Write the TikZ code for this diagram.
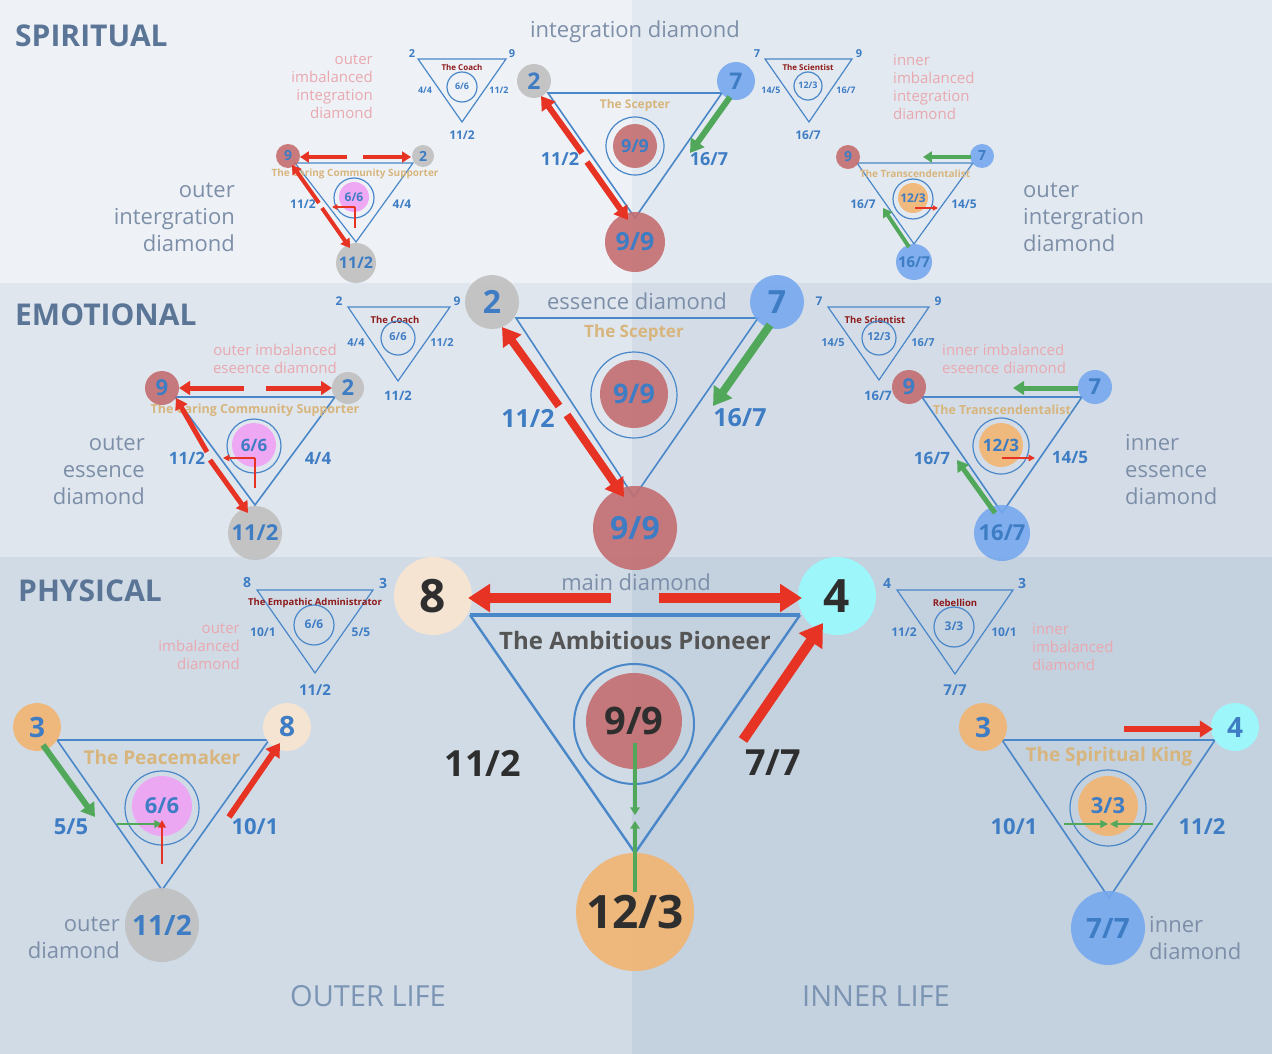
\documentclass[tikz,border=0pt]{standalone}
\usepackage{fontspec}
\setmainfont{Open Sans}
\usetikzlibrary{arrows.meta}
\definecolor{bgSL}{HTML}{EEF2F7}
\definecolor{bgSR}{HTML}{E3E9F0}
\definecolor{bgEL}{HTML}{DFE6EE}
\definecolor{bgER}{HTML}{D4DDE7}
\definecolor{bgPL}{HTML}{D0DBE6}
\definecolor{bgPR}{HTML}{C4D1DF}
\definecolor{numblue}{HTML}{3E7DC4}
\definecolor{triblue}{HTML}{4A87C8}
\definecolor{tanc}{HTML}{D7B57D}
\definecolor{darkredc}{HTML}{8E1B1B}
\definecolor{pinkt}{HTML}{E9A8AF}
\definecolor{headc}{HTML}{5B7597}
\definecolor{labc}{HTML}{7D8FA8}
\definecolor{lifec}{HTML}{7C94B3}
\definecolor{darkt}{HTML}{2E2E2E}
\definecolor{pioneerc}{HTML}{555555}
\definecolor{arrred}{HTML}{E63323}
\definecolor{arrgreen}{HTML}{52A85A}
\definecolor{cgray}{HTML}{C0C0C0}
\definecolor{cred}{HTML}{C46E70}
\definecolor{cblue}{HTML}{76A8EE}
\definecolor{corange}{HTML}{F2B471}
\definecolor{cpink}{HTML}{F0A2F4}
\definecolor{cpeach}{HTML}{FBE6D0}
\definecolor{ccyan}{HTML}{99FBFE}
\newcommand\myfs[2]{\fontsize{#1}{#2}\selectfont}
\tikzset{
  num/.style={text=numblue, font=\bfseries\myfs{#1}{#1}, inner sep=0pt},
  dnum/.style={text=darkt, font=\bfseries\myfs{#1}{#1}, inner sep=0pt},
  dot/.style={circle, inner sep=0pt, minimum size=#1, fill opacity=0.9, text opacity=1},
  ring/.style={circle, draw=triblue, line width=1.2pt, inner sep=0pt, minimum size=#1},
  trismall/.style={draw=triblue, line width=1.2pt, line join=miter},
  trimid/.style={draw=triblue, line width=1.6pt, line join=miter},
  tribig/.style={draw=triblue, line width=2.4pt, line join=miter},
  tanlbl/.style={text=tanc, font=\bfseries\myfs{#1}{#1}, inner sep=0pt},
  drlbl/.style={text=darkredc, font=\bfseries\myfs{#1}{#1}, inner sep=0pt},
  pinklbl/.style={text=pinkt, font=\myfs{15}{18}, inner sep=0pt},
  graylbl/.style={text=labc, font=\myfs{22}{27}, inner sep=0pt},
  headlbl/.style={text=headc, font=\bfseries\myfs{30}{30}, inner sep=0pt, anchor=west},
  lifelbl/.style={text=lifec, font=\myfs{29}{29}, inner sep=0pt},
  rarr/.style={draw=arrred, line width=#1, -{Triangle[length=0pt 2.2, width=0pt 2.7]}},
  garr/.style={draw=arrgreen, line width=#1, -{Triangle[length=0pt 2.2, width=0pt 2.7]}},
  rthin/.style={draw=arrred, line width=#1, -{Triangle[length=0pt 3.5, width=0pt 3.5]}},
  gthin/.style={draw=arrgreen, line width=#1, -{Triangle[length=0pt 3.5, width=0pt 3.5]}},
}
\begin{document}
\begin{tikzpicture}[x=1pt,y=-1pt]
\useasboundingbox (0,0) rectangle (1272,1054);
% backgrounds
\fill[bgSL] (0,0) rectangle (632,283);
\fill[bgSR] (632,0) rectangle (1272,283);
\fill[bgEL] (0,283) rectangle (632,557);
\fill[bgER] (632,283) rectangle (1272,557);
\fill[bgPL] (0,557) rectangle (632,1054);
\fill[bgPR] (632,557) rectangle (1272,1054);

% headings
\node[headlbl] (hS) at (15,36) {SPIRITUAL};
\node[headlbl] (hE) at (15,315) {EMOTIONAL};
\node[headlbl] (hP) at (18,591) {PHYSICAL};
\node[lifelbl] (lo) at (368,996) {OUTER LIFE};
\node[lifelbl] (li) at (876,996) {INNER LIFE};

% ================= SPIRITUAL =================
\node[graylbl] (tInt) at (635,32) {integration diamond};
\node[graylbl, anchor=east, align=right] (tOI) at (235,217) {outer\\intergration\\diamond};
\node[graylbl, anchor=west, align=left] (tII) at (1023,217) {outer\\intergration\\diamond};
\node[pinklbl, anchor=east, align=right] (pS1) at (373,87) {outer\\imbalanced\\integration\\diamond};
\node[pinklbl, anchor=west, align=left] (pS2) at (893,87) {inner\\imbalanced\\integration\\diamond};

% scepter (spiritual)
\coordinate (sA) at (548,93); \coordinate (sB) at (722,93); \coordinate (sC) at (635,218);
\draw[trimid] (sA) -- (sB) -- (sC) -- cycle;
\node[tanlbl=12] (sT) at (635,105) {The Scepter};
\node[ring=58] (sR) at (635,146) {};
\node[dot=44, fill=cred, num=18] (sI) at (635,146) {9/9};
\node[dot=34, fill=cgray, num=23] (s2) at (534,81) {2};
\node[dot=38, fill=cblue, num=23] (s7) at (736,81) {7};
\node[dot=60, fill=cred, num=25] (s9) at (635,242) {9/9};
\node[num=18] (sl1) at (560,159) {11/2};
\node[num=18] (sl2) at (709,159) {16/7};
\draw[rarr=6] (582,153) -- (541,96);
\draw[rarr=6] (587,162) -- (628,220);
\draw[garr=6] (730,97) -- (690,153);

% coach small (spiritual)
\draw[trismall] (418,59) -- (506,59) -- (462,122) -- cycle;
\node[num=11] (c1a) at (412,54) {2};
\node[num=11] (c1b) at (512,54) {9};
\node[drlbl=8] (c1t) at (462,68) {The Coach};
\node[ring=30] (c1r) at (462,87) {};
\node[num=9] (c1c) at (462,86) {6/6};
\node[num=9] (c1l) at (425,90) {4/4};
\node[num=9] (c1rr) at (499,90) {11/2};
\node[num=12] (c1bt) at (462,135) {11/2};

% caring (spiritual)
\draw[trismall] (295,163) -- (413,163) -- (356,242) -- cycle;
\node[ring=40] (cc1r) at (354,198) {};
\node[dot=30, fill=cpink, num=12] (cc1c) at (354,197) {6/6};
\node[tanlbl=10] (cc1t) at (355,174) {The Caring Community Supporter};
\node[dot=24, fill=cred, num=14] (cc19) at (288,156) {9};
\node[dot=22, fill=cgray, num=14] (cc12) at (423,156) {2};
\node[dot=40, fill=cgray, num=16] (cc1b) at (356,263) {11/2};
\node[num=12] (cc1l) at (303,204) {11/2};
\node[num=12] (cc1rl) at (402,204) {4/4};
\draw[rarr=4] (347,157) -- (300,157);
\draw[rarr=4] (363,157) -- (411,157);
\draw[rarr=4] (319,203) -- (292,165);
\draw[rarr=4] (322,208) -- (350,248);
\draw[draw=arrred, line width=1.5pt] (355,228) -- (355,207);
\draw[rthin=1.5pt] (355,207) -- (332,207);

% scientist small (spiritual)
\draw[trismall] (765,59) -- (852,59) -- (809,122) -- cycle;
\node[num=11] (sc1a) at (757,54) {7};
\node[num=11] (sc1b) at (859,54) {9};
\node[drlbl=8] (sc1t) at (808,68) {The Scientist};
\node[ring=28] (sc1r) at (808,86) {};
\node[num=9] (sc1c) at (808,85) {12/3};
\node[num=9] (sc1l) at (771,90) {14/5};
\node[num=9] (sc1rl) at (846,90) {16/7};
\node[num=12] (sc1bt) at (808,135) {16/7};

% transcendentalist (spiritual)
\draw[trismall] (857,163) -- (973,163) -- (914,244) -- cycle;
\node[ring=40] (tr1r) at (913,199) {};
\node[dot=30, fill=corange, num=12] (tr1c) at (913,198) {12/3};
\node[tanlbl=10] (tr1t) at (915,174) {The Transcendentalist};
\node[dot=24, fill=cred, num=14] (tr19) at (848,157) {9};
\node[dot=24, fill=cblue, num=14] (tr17) at (982,156) {7};
\node[dot=36, fill=cblue, num=15] (tr1b) at (914,262) {16/7};
\node[num=12] (tr1l) at (863,204) {16/7};
\node[num=12] (tr1rl) at (964,204) {14/5};
\draw[garr=4] (971,157) -- (923,157);
\draw[garr=4] (909,247) -- (883,208);
\draw[rthin=1.5pt] (915,208) -- (938,208);

% ================= EMOTIONAL =================
\node[graylbl] (tEss) at (637,301) {essence diamond};
\node[graylbl, anchor=east, align=right] (tOE) at (145,470) {outer\\essence\\diamond};
\node[graylbl, anchor=west, align=left] (tIE) at (1125,470) {inner\\essence\\diamond};
\node[pinklbl, anchor=east, align=right] (pE1) at (337,359) {outer imbalanced\\eseence diamond};
\node[pinklbl, anchor=west, align=left] (pE2) at (942,359) {inner imbalanced\\eseence diamond};

% scepter (emotional)
\coordinate (eA) at (516,318); \coordinate (eB) at (758,318); \coordinate (eC) at (634,497);
\draw[trimid] (eA) -- (eB) -- (eC) -- cycle;
\node[tanlbl=17] (eT) at (634,333) {The Scepter};
\node[ring=86] (eR) at (634,395) {};
\node[dot=68, fill=cred, num=27] (eI) at (634,394) {9/9};
\node[dot=54, fill=cgray, num=32] (e2) at (492,302) {2};
\node[dot=54, fill=cblue, num=32] (e7) at (777,302) {7};
\node[dot=84, fill=cred, num=32] (e9) at (635,528) {9/9};
\node[num=25] (el1) at (528,418) {11/2};
\node[num=25] (el2) at (740,418) {16/7};
\draw[rarr=8] (559,406) -- (502,327);
\draw[rarr=8] (567,415) -- (624,497);
\draw[garr=8] (770,325) -- (713,406);

% coach small (emotional)
\draw[trismall] (348,307) -- (450,307) -- (398,381) -- cycle;
\node[num=12] (c2a) at (339,301) {2};
\node[num=12] (c2b) at (457,301) {9};
\node[drlbl=9.5] (c2t) at (395,320) {The Coach};
\node[ring=34] (c2r) at (398,338) {};
\node[num=11] (c2c) at (398,337) {6/6};
\node[num=11] (c2l) at (356,343) {4/4};
\node[num=11] (c2rl) at (442,343) {11/2};
\node[num=13] (c2bt) at (398,396) {11/2};

% caring (emotional)
\draw[trimid] (175,397) -- (335,397) -- (255,505) -- cycle;
\node[ring=54] (cc2r) at (254,446) {};
\node[dot=44, fill=cpink, num=17] (cc2c) at (254,445) {6/6};
\node[tanlbl=12.5] (cc2t) at (255,410) {The Caring Community Supporter};
\node[dot=34, fill=cred, num=22] (cc29) at (162,388) {9};
\node[dot=32, fill=cgray, num=22] (cc22) at (348,388) {2};
\node[dot=54, fill=cgray, num=22] (cc2b) at (255,533) {11/2};
\node[num=17] (cc2l) at (187,458) {11/2};
\node[num=17] (cc2rl) at (318,458) {4/4};
\draw[rarr=5] (244,388) -- (179,388);
\draw[rarr=5] (266,388) -- (332,388);
\draw[rarr=5] (207,452) -- (176,398);
\draw[rarr=5] (210,460) -- (248,513);
\draw[draw=arrred, line width=1.8pt] (255,488) -- (255,458);
\draw[rthin=1.8pt] (255,458) -- (223,458);

% scientist small (emotional)
\draw[trismall] (828,307) -- (929,307) -- (879,380) -- cycle;
\node[num=12] (sc2a) at (819,301) {7};
\node[num=12] (sc2b) at (938,301) {9};
\node[drlbl=9.5] (sc2t) at (875,320) {The Scientist};
\node[ring=34] (sc2r) at (879,338) {};
\node[num=11] (sc2c) at (879,337) {12/3};
\node[num=11] (sc2l) at (833,343) {14/5};
\node[num=11] (sc2rl) at (923,343) {16/7};
\node[num=13] (sc2bt) at (878,396) {16/7};

% transcendentalist (emotional)
\draw[trimid] (922,397) -- (1082,397) -- (1002,513) -- cycle;
\node[ring=56] (tr2r) at (1001,446) {};
\node[dot=44, fill=corange, num=17] (tr2c) at (1001,445) {12/3};
\node[tanlbl=12.5] (tr2t) at (1002,410) {The Transcendentalist};
\node[dot=34, fill=cred, num=22] (tr29) at (909,387) {9};
\node[dot=34, fill=cblue, num=22] (tr27) at (1095,387) {7};
\node[dot=56, fill=cblue, num=22] (tr2b) at (1002,533) {16/7};
\node[num=17] (tr2l) at (932,458) {16/7};
\node[num=17] (tr2rl) at (1070,458) {14/5};
\draw[garr=5] (1078,388) -- (1013,388);
\draw[garr=5] (995,513) -- (957,460);
\draw[rthin=1.8pt] (1002,458) -- (1035,458);

% ================= PHYSICAL =================
\node[graylbl] (tMain) at (636,582) {main diamond};
\node[graylbl, anchor=east, align=right] (tOD) at (120,938) {outer\\diamond};
\node[graylbl, anchor=west, align=left] (tID) at (1149,938) {inner\\diamond};
\node[pinklbl, anchor=east, align=right] (pP1) at (240,647) {outer\\imbalanced\\diamond};
\node[pinklbl, anchor=west, align=left] (pP2) at (1032,647) {inner\\imbalanced\\diamond};

% main diamond
\coordinate (mA) at (470,615); \coordinate (mB) at (800,615); \coordinate (mC) at (635,853);
\draw[tribig] (mA) -- (mC) -- (mB);
\draw[draw=triblue, line width=3.4pt] (mA) -- (mB);
\node[text=pioneerc, font=\bfseries\myfs{24}{24}, inner sep=0pt] (mT) at (635,640) {The Ambitious Pioneer};
\node[ring=120, line width=2pt] (mR) at (634,724) {};
\node[dot=96, fill=cred, dnum=38] (mI) at (634,721) {9/9};
\node[dot=78, fill=cpeach, dnum=46] (m8) at (433,596) {8};
\node[dot=78, fill=ccyan, dnum=46] (m4) at (837,596) {4};
\node[dot=118, fill=corange, dnum=46] (m12) at (635,912) {12/3};
\node[dnum=36] (ml1) at (483,763) {11/2};
\node[dnum=36] (ml2) at (773,763) {7/7};
\draw[rarr=10] (611,598) -- (468,598);
\draw[rarr=10] (659,598) -- (802,598);
\draw[rarr=10] (743,740) -- (823,623);
\draw[garr=3.5] (635,743) -- (635,815);
\draw[garr=3.5] (635,892) -- (635,821);

% empathic administrator small
\draw[trismall] (257,590) -- (373,590) -- (315,673) -- cycle;
\node[num=14] (ea8) at (247,583) {8};
\node[num=14] (ea3) at (383,583) {3};
\node[drlbl=9.5] (eat) at (315,603) {The Empathic Administrator};
\node[ring=40] (ear) at (314,625) {};
\node[num=12] (eac) at (314,624) {6/6};
\node[num=12] (eal) at (263,632) {10/1};
\node[num=12] (earl) at (361,632) {5/5};
\node[num=15] (eab) at (315,690) {11/2};

% peacemaker
\draw[trimid] (57,740) -- (162,890) -- (269,740);
\draw[draw=triblue, line width=2.6pt] (57,740) -- (269,740);
\node[ring=74] (pmr) at (162,808) {};
\node[dot=60, fill=cpink, num=22] (pmc) at (162,806) {6/6};
\node[tanlbl=19] (pmt) at (162,757) {The Peacemaker};
\node[dot=48, fill=corange, num=28] (pm3) at (37,727) {3};
\node[dot=48, fill=cpeach, num=28] (pm8) at (287,727) {8};
\node[dot=74, fill=cgray, num=28] (pmb) at (162,925) {11/2};
\node[num=22] (pml) at (71,827) {5/5};
\node[num=22] (pmrl) at (255,827) {10/1};
\draw[garr=6] (43,745) -- (95,817);
\draw[rarr=6] (229,817) -- (280,743);
\draw[gthin=2.2pt] (117,824) -- (162,824);
\draw[rthin=2.2pt] (162,864) -- (162,820);

% rebellion small
\draw[trismall] (897,590) -- (1013,590) -- (955,674) -- cycle;
\node[num=14] (rb4) at (887,583) {4};
\node[num=14] (rb3) at (1022,583) {3};
\node[drlbl=9.5] (rbt) at (955,603) {Rebellion};
\node[ring=40] (rbr) at (954,627) {};
\node[num=12] (rbc) at (954,626) {3/3};
\node[num=12] (rbl) at (904,632) {11/2};
\node[num=12] (rbrl) at (1004,632) {10/1};
\node[num=15] (rbb) at (955,690) {7/7};

% spiritual king
\draw[trimid] (1002,740) -- (1109,898) -- (1215,740);
\draw[draw=triblue, line width=2.6pt] (1002,740) -- (1215,740);
\node[ring=76] (skr) at (1108,808) {};
\node[dot=60, fill=corange, num=22] (skc) at (1108,806) {3/3};
\node[tanlbl=19] (skt) at (1109,757) {The Spiritual King};
\node[dot=48, fill=corange, num=28] (sk3) at (983,727) {3};
\node[dot=48, fill=ccyan, num=28] (sk4) at (1235,727) {4};
\node[dot=74, fill=cblue, num=28] (skb) at (1108,928) {7/7};
\node[num=22] (skl) at (1014,827) {10/1};
\node[num=22] (skrl) at (1202,827) {11/2};
\draw[rarr=6] (1124,729) -- (1213,729);
\draw[gthin=2.2pt] (1064,824) -- (1108,824);
\draw[gthin=2.2pt] (1153,824) -- (1110,824);
\end{tikzpicture}
\end{document}
